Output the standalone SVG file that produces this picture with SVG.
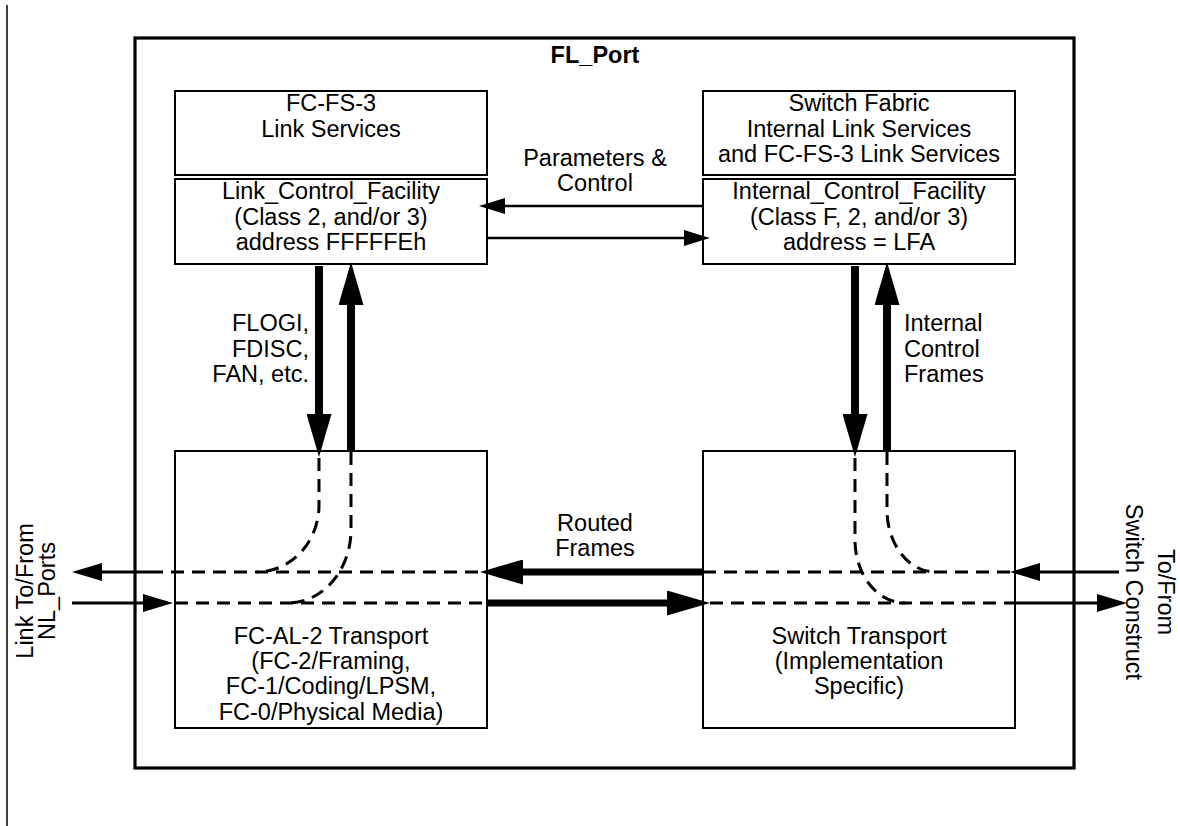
<svg xmlns="http://www.w3.org/2000/svg" width="1180" height="826" viewBox="0 0 1180 826">
<style>
text{font-family:"Liberation Sans",Arial,Helvetica,sans-serif;font-size:23.5px;fill:#000}
.c{text-anchor:middle}
.r{text-anchor:end}
.b{font-weight:bold}
.box{fill:#fff;stroke:#000;stroke-width:2}
.thin{stroke:#000;stroke-width:2.5;fill:none}
.ext{stroke:#000;stroke-width:3;fill:none}
.thick{stroke:#000;stroke-width:8;fill:none}
.thickh{stroke:#000;stroke-width:7;fill:none}
.dash{stroke:#000;stroke-width:3;fill:none;stroke-dasharray:13 8}
</style>
<defs>
<marker id="mThin" markerUnits="userSpaceOnUse" viewBox="0 0 26 16" markerWidth="26" markerHeight="16" refX="0" refY="8" orient="auto"><path d="M0,0 L26,8 L0,16 z"/></marker>
<marker id="mExt" markerUnits="userSpaceOnUse" viewBox="0 0 30 18" markerWidth="30" markerHeight="18" refX="0" refY="9" orient="auto"><path d="M0,0 L30,9 L0,18 z"/></marker>
<marker id="mThick" markerUnits="userSpaceOnUse" viewBox="0 0 43 25" markerWidth="43" markerHeight="25" refX="0" refY="12.5" orient="auto"><path d="M0,0 L43,12.5 L0,25 z"/></marker>
</defs>
<rect width="1180" height="826" fill="#fff"/>
<line x1="7" y1="5" x2="7" y2="826" stroke="#000" stroke-width="1.5"/>
<g id="fl_port">
<rect x="135" y="38" width="939" height="730" fill="none" stroke="#000" stroke-width="3.2"/>
<text class="c b" x="595" y="63">FL_Port</text>
</g>
<g id="fcfs3_link_services">
<rect class="box" x="175" y="91" width="312" height="84"/>
<text class="c" x="331" y="111">FC-FS-3</text>
<text class="c" x="331" y="136.5">Link Services</text>
</g>
<g id="link_control_facility">
<rect class="box" x="175" y="179" width="312" height="85"/>
<text class="c" x="331" y="199">Link_Control_Facility</text>
<text class="c" x="331" y="224.5">(Class 2, and/or 3)</text>
<text class="c" x="331" y="250">address FFFFFEh</text>
</g>
<g id="switch_fabric_services">
<rect class="box" x="703" y="91" width="312" height="84"/>
<text class="c" x="859" y="111">Switch Fabric</text>
<text class="c" x="859" y="136.5">Internal Link Services</text>
<text class="c" x="859" y="162">and FC-FS-3 Link Services</text>
</g>
<g id="internal_control_facility">
<rect class="box" x="703" y="179" width="312" height="85"/>
<text class="c" x="859" y="199">Internal_Control_Facility</text>
<text class="c" x="859" y="224.5">(Class F, 2, and/or 3)</text>
<text class="c" x="859" y="250">address = LFA</text>
</g>
<g id="fcal2_transport">
<rect class="box" x="175" y="451" width="312" height="277"/>
<text class="c" x="331" y="643.5">FC-AL-2 Transport</text>
<text class="c" x="331" y="669">(FC-2/Framing,</text>
<text class="c" x="331" y="694">FC-1/Coding/LPSM,</text>
<text class="c" x="331" y="719.5">FC-0/Physical Media)</text>
</g>
<g id="switch_transport">
<rect class="box" x="703" y="451" width="312" height="277"/>
<text class="c" x="859" y="643.5">Switch Transport</text>
<text class="c" x="859" y="669">(Implementation</text>
<text class="c" x="859" y="694">Specific)</text>
</g>
<g id="connectors">
<line class="thin" x1="703" y1="206" x2="505" y2="206" marker-end="url(#mThin)"/>
<line class="thin" x1="487" y1="238" x2="684" y2="238" marker-end="url(#mThin)"/>
<line class="thick" x1="319" y1="266" x2="319" y2="414" marker-end="url(#mThick)"/>
<line class="thick" x1="351" y1="452" x2="351" y2="305" marker-end="url(#mThick)"/>
<line class="thick" x1="855" y1="266" x2="855" y2="414" marker-end="url(#mThick)"/>
<line class="thick" x1="887" y1="452" x2="887" y2="305" marker-end="url(#mThick)"/>
<line class="thickh" x1="703" y1="572" x2="523" y2="572" marker-end="url(#mThick)"/>
<line class="thickh" x1="487" y1="603" x2="667" y2="603" marker-end="url(#mThick)"/>
<line class="ext" x1="150" y1="572" x2="102" y2="572" marker-end="url(#mExt)"/>
<line class="ext" x1="72" y1="603" x2="143" y2="603" marker-end="url(#mExt)"/>
<line class="ext" x1="1119" y1="572" x2="1040" y2="572" marker-end="url(#mExt)"/>
<line class="ext" x1="1013" y1="603" x2="1097" y2="603" marker-end="url(#mExt)"/>
<path class="dash" d="M150,572 H480"/>
<path class="dash" d="M175,603 H487"/>
<path class="dash" d="M703,572 H1010"/>
<path class="dash" d="M710,603 H1013"/>
<path class="dash" d="M319,458 L319,505 C319,542 291,572 257,572"/>
<path class="dash" d="M351,452 L351,530 C351,570 322.6,603 288,603"/>
<path class="dash" d="M855,458 L855,540 C855,575 877.5,603 905,603"/>
<path class="dash" d="M887,452 L887,510 C887,544 908.6,572 935,572"/>
</g>
<g id="labels">
<text class="c" x="595" y="166">Parameters &amp;</text>
<text class="c" x="595" y="191">Control</text>
<text class="r" x="309" y="331">FLOGI,</text>
<text class="r" x="309" y="356.5">FDISC,</text>
<text class="r" x="309" y="382">FAN, etc.</text>
<text x="904" y="331">Internal</text>
<text x="904" y="356.5">Control</text>
<text x="904" y="382">Frames</text>
<text class="c" x="595" y="531">Routed</text>
<text class="c" x="595" y="556">Frames</text>
<text class="c" transform="translate(33,591) rotate(-90)">Link To/From</text>
<text class="c" transform="translate(55,591) rotate(-90)">NL_Ports</text>
<text class="c" transform="translate(1158,592) rotate(90)">To/From</text>
<text class="c" transform="translate(1126,592) rotate(90)">Switch Construct</text>
</g>
</svg>
